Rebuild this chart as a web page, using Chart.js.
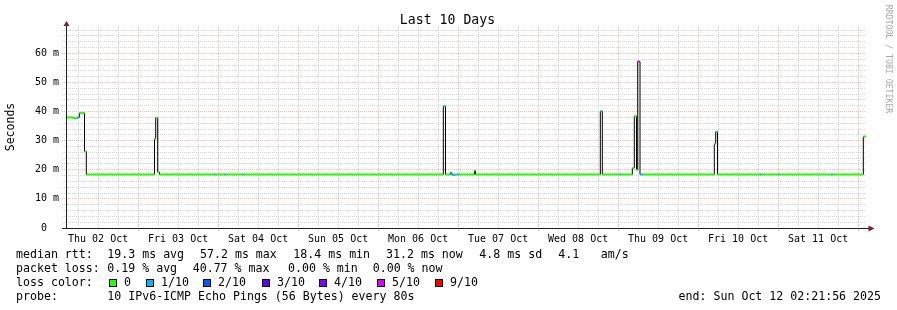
<!DOCTYPE html>
<html>
<head>
<meta charset="utf-8">
<script src="https://cdn.jsdelivr.net/npm/chart.js@4.4.1/dist/chart.umd.min.js"></script>
<style>
  html, body { margin: 0; padding: 0; background: #fff; }
  canvas { display: block; }
</style>
</head>
<body>
<canvas id="chart" width="897" height="310"></canvas>
<script>
const MONO = '"DejaVu Sans Mono", "Liberation Mono", monospace';

// x axis is in hours since Thu 02 Oct 00:00, graph ends Sun Oct 12 02:21:56
const startHour = 2.3656;
const endHour = 242.3656;
const dayLabels = ['Thu 02 Oct', 'Fri 03 Oct', 'Sat 04 Oct', 'Sun 05 Oct', 'Mon 06 Oct',
  'Tue 07 Oct', 'Wed 08 Oct', 'Thu 09 Oct', 'Fri 10 Oct', 'Sat 11 Oct'];

// median rtt samples (start hour of each step, value in ms, loss class in tenths)
const sampleHours = [2.40, 4.56, 5.82, 6.36, 7.92, 8.46, 28.92, 29.28, 29.88, 30.42,
  46.77, 47.16, 49.92, 50.31, 55.26, 55.65, 115.56, 116.22, 117.72, 118.17,
  119.22, 119.67, 120.27, 124.86, 125.22, 162.66, 163.26, 168.57, 168.96, 172.26,
  172.86, 173.52, 173.88, 174.57, 175.47, 196.86, 197.28, 197.82, 210.57, 210.96,
  215.97, 216.36, 231.87, 232.26, 241.56];
const medianMs = [38.0, 37.7, 38.0, 39.5, 26.3, 18.4, 30.6, 37.9, 19.2, 18.4,
  18.4, 18.4, 18.4, 18.4, 18.4, 18.4, 41.8, 18.4, 19.0, 18.3,
  18.4, 18.4, 18.4, 19.7, 18.4, 40.1, 18.4, 18.4, 18.4, 20.6,
  38.4, 20.0, 57.2, 18.4, 18.4, 28.9, 33.1, 18.4, 18.4, 18.4,
  18.4, 18.4, 18.4, 18.4, 31.4];
const lossClass = [0, 0, 1, 0, 0, 0, 0, 0, 0, 0,
  1, 0, 1, 0, 1, 0, 1, 0, 1, 1,
  0, 1, 0, 0, 0, 1, 0, 1, 0, 0,
  0, 0, 5, 1, 0, 0, 0, 0, 1, 0,
  1, 0, 1, 0, 0];

// loss colour legend
const lossKeys = [0, 1, 2, 3, 4, 5, 9];
const lossLabels = ['0', '1/10', '2/10', '3/10', '4/10', '5/10', '9/10'];
const lossColors = ['#26ff00', '#00b8ff', '#0059ff', '#5e00ff', '#7e00ff', '#dd00ff', '#ff0000'];

// legend texts
const rttStats = ['19.3 ms avg', '57.2 ms max', '18.4 ms min', '31.2 ms now', '4.8 ms sd', '4.1', 'am/s'];
const lossStats = ['0.19 % avg', '40.77 % max', '0.00 % min', '0.00 % now'];
const probeText = '10 IPv6-ICMP Echo Pings (56 Bytes) every 80s';
const endText = 'end: Sun Oct 12 02:21:56 2025';

// ticks
const yTickValues = [];
for (let v = 0; v <= 68; v += 2) yTickValues.push(v);
const xTickValues = [];
for (let h = 6; h <= 240; h += 6) xTickValues.push(h);

// layout of the legend block (pixels)
const rttX = [107.3, 200, 293.3, 386, 479.3, 558.3, 600.7];
const lossX = [107.3, 192.7, 288, 372.7];
const boxX = [109, 146, 203, 262, 319, 377, 435];

const GRID = 'rgba(165,165,165,0.45)';
const MGRID = 'rgba(240,90,90,0.45)';

// black median line (stepped), colored loss segments drawn on top of it
const medianLine = sampleHours.map((h, i) => ({ x: h, y: medianMs[i] }));
medianLine.push({ x: endHour, y: medianMs[medianMs.length - 1] });

const lossSets = lossKeys.map((k, j) => {
  const pts = [];
  sampleHours.forEach((h, i) => {
    if (lossClass[i] !== k) return;
    const h2 = i + 1 < sampleHours.length ? sampleHours[i + 1] : endHour;
    pts.push({ x: h, y: medianMs[i] }, { x: h2, y: medianMs[i] }, { x: h2, y: null });
  });
  return {
    data: pts,
    borderColor: lossColors[j],
    borderWidth: 2,
    borderCapStyle: 'butt',
    pointRadius: 0,
    spanGaps: false,
    order: 0,
  };
});

const rrdDecor = {
  id: 'rrdDecor',
  beforeDraw(chart) {
    const ctx = chart.ctx;
    ctx.save();
    ctx.fillStyle = '#fff';
    ctx.fillRect(0, 0, chart.width, chart.height);
    ctx.restore();
  },
  afterDraw(chart) {
    const ctx = chart.ctx;
    const a = chart.chartArea;
    const ax = Math.round(a.left) + 0.5;
    const ay = Math.round(a.bottom) + 0.5;
    ctx.save();

    // axes + arrows
    ctx.strokeStyle = '#1f1f1f';
    ctx.lineWidth = 1;
    ctx.beginPath();
    ctx.moveTo(ax, ay);
    ctx.lineTo(ax, a.top - 1);
    ctx.moveTo(a.left - 4, ay);
    ctx.lineTo(a.right + 3, ay);
    ctx.stroke();
    ctx.fillStyle = '#801f1f';
    ctx.beginPath();
    ctx.moveTo(ax, a.top - 5);
    ctx.lineTo(ax - 3, a.top);
    ctx.lineTo(ax + 3, a.top);
    ctx.closePath();
    ctx.fill();
    ctx.beginPath();
    ctx.moveTo(a.right + 8.5, ay);
    ctx.lineTo(a.right + 2.5, ay - 3);
    ctx.lineTo(a.right + 2.5, ay + 3);
    ctx.closePath();
    ctx.fill();

    // title
    ctx.fillStyle = '#000';
    ctx.font = '13.2px ' + MONO;
    ctx.textAlign = 'center';
    ctx.textBaseline = 'alphabetic';
    ctx.fillText('Last 10 Days', 447.5, 24);

    // watermark
    ctx.save();
    ctx.translate(888, 59);
    ctx.rotate(Math.PI / 2);
    ctx.fillStyle = '#aaaaaa';
    ctx.font = '8.2px ' + MONO;
    ctx.textBaseline = 'middle';
    ctx.fillText('RRDTOOL / TOBI OETIKER', 0, 0);
    ctx.restore();

    // legend block
    ctx.font = '11.6px ' + MONO;
    ctx.textAlign = 'left';
    ctx.fillStyle = '#000';
    ctx.fillText('median rtt:', 16, 258.3);
    rttStats.forEach((s, i) => ctx.fillText(s, rttX[i], 258.3));
    ctx.fillText('packet loss:', 16, 272.3);
    lossStats.forEach((s, i) => ctx.fillText(s, lossX[i], 272.3));
    ctx.fillText('loss color:', 16, 286.3);
    lossLabels.forEach((s, i) => {
      ctx.fillStyle = lossColors[i];
      ctx.fillRect(boxX[i], 279, 8, 8);
      ctx.strokeStyle = '#000';
      ctx.strokeRect(boxX[i] + 0.5, 279.5, 7, 7);
      ctx.fillStyle = '#000';
      ctx.fillText(s, boxX[i] + 15, 286.3);
    });
    ctx.fillText('probe:', 16, 300.3);
    ctx.fillText(probeText, 107.3, 300.3);
    ctx.textAlign = 'right';
    ctx.fillText(endText, 881, 300.3);
    ctx.restore();
  }
};

new Chart(document.getElementById('chart').getContext('2d'), {
  type: 'line',
  data: {
    datasets: [
      ...lossSets,
      {
        data: medianLine,
        stepped: 'before',
        borderColor: '#000',
        borderWidth: 1,
        pointRadius: 0,
        order: 1,
      },
    ],
  },
  options: {
    responsive: false,
    animation: false,
    devicePixelRatio: 1,
    layout: { padding: { top: 26, right: 31, left: 0, bottom: 0 } },
    plugins: {
      legend: { display: false },
      tooltip: { enabled: false },
      title: { display: false },
    },
    scales: {
      x: {
        type: 'linear',
        min: startHour,
        max: endHour,
        afterBuildTicks: s => { s.ticks = xTickValues.map(v => ({ value: v })); },
        afterFit: s => { s.height = 82; },
        ticks: {
          autoSkip: false,
          maxRotation: 0,
          padding: 2,
          color: '#000',
          font: { family: MONO, size: 10 },
          callback: v => (v % 24 === 12 ? dayLabels[(v - 12) / 24] : ''),
        },
        grid: {
          color: c => (c.tick && c.tick.value % 24 === 0 ? MGRID : GRID),
          tickLength: 3,
          tickBorderDash: [1, 1],
        },
        border: { display: false, dash: [1, 1] },
      },
      y: {
        type: 'linear',
        min: 0,
        max: 69.4,
        afterBuildTicks: s => { s.ticks = yTickValues.map(v => ({ value: v })); },
        afterFit: s => { s.width = 66; },
        ticks: {
          autoSkip: false,
          padding: 3,
          color: '#000',
          font: { family: MONO, size: 10 },
          callback: v => (v % 10 === 0 ? (v === 0 ? '0  ' : v + ' m') : ''),
        },
        grid: {
          color: c => (c.tick && c.tick.value % 10 === 0 ? MGRID : GRID),
          tickLength: 4,
          tickBorderDash: [1, 1],
        },
        border: { display: false, dash: [1, 1] },
        title: {
          display: true,
          text: 'Seconds',
          color: '#000',
          font: { family: MONO, size: 11.5 },
          padding: { top: 4, bottom: 0 },
        },
      },
    },
  },
  plugins: [rrdDecor],
});
</script>
</body>
</html>
